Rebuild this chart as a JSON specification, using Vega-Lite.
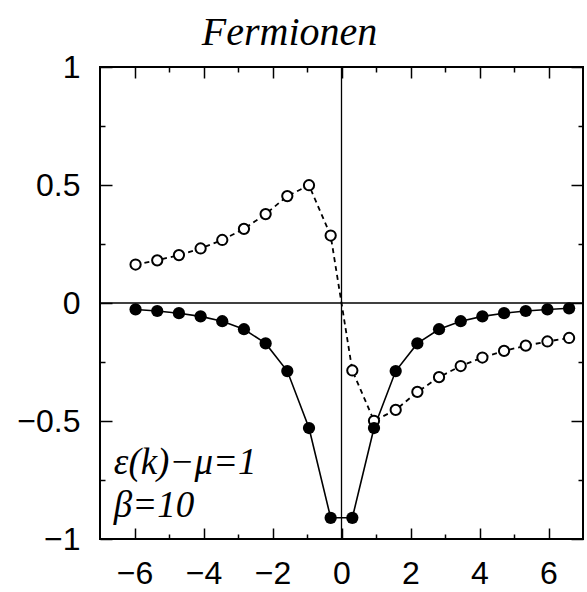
{
  "$schema": "https://vega.github.io/schema/vega-lite/v6.json",
  "width": 483,
  "height": 472,
  "autosize": {"type": "none"},
  "padding": {"left": 100, "top": 67, "right": 4, "bottom": 53},
  "background": "white",
  "config": {
    "view": {"stroke": "black", "strokeWidth": 2},
    "font": "Liberation Sans",
    "axis": {"grid": false}
  },
  "title": {
    "text": "Fermionen",
    "font": "Liberation Serif",
    "fontStyle": "italic",
    "fontWeight": "normal",
    "fontSize": 40,
    "color": "black",
    "anchor": "middle",
    "frame": "group",
    "dx": -52,
    "offset": -2
  },
  "datasets": {
    "green": [
      {"omega": -5.969, "re": -0.0273, "im": 0.1630},
      {"omega": -5.341, "re": -0.0339, "im": 0.1809},
      {"omega": -4.712, "re": -0.0431, "im": 0.2030},
      {"omega": -4.084, "re": -0.0566, "im": 0.2310},
      {"omega": -3.456, "re": -0.0773, "im": 0.2671},
      {"omega": -2.827, "re": -0.1112, "im": 0.3143},
      {"omega": -2.199, "re": -0.1714, "im": 0.3768},
      {"omega": -1.571, "re": -0.2884, "im": 0.4531},
      {"omega": -0.942, "re": -0.5297, "im": 0.4990},
      {"omega": -0.314, "re": -0.9102, "im": 0.2859},
      {"omega": 0.314, "re": -0.9102, "im": -0.2859},
      {"omega": 0.942, "re": -0.5297, "im": -0.4990},
      {"omega": 1.571, "re": -0.2884, "im": -0.4531},
      {"omega": 2.199, "re": -0.1714, "im": -0.3768},
      {"omega": 2.827, "re": -0.1112, "im": -0.3143},
      {"omega": 3.456, "re": -0.0773, "im": -0.2671},
      {"omega": 4.084, "re": -0.0566, "im": -0.2310},
      {"omega": 4.712, "re": -0.0431, "im": -0.2030},
      {"omega": 5.341, "re": -0.0339, "im": -0.1809},
      {"omega": 5.969, "re": -0.0273, "im": -0.1630},
      {"omega": 6.597, "re": -0.0225, "im": -0.1482}
    ],
    "notes": [
      {"label": "ε(k)−μ=1", "x": -6.6, "y": -0.68},
      {"label": "β=10", "x": -6.6, "y": -0.86}
    ]
  },
  "resolve": {"axis": {"x": "independent", "y": "independent"}},
  "layer": [
    {
      "data": {"name": "green"},
      "mark": {"type": "line", "color": "black", "strokeWidth": 1.6},
      "encoding": {
        "x": {
          "field": "omega", "type": "quantitative",
          "scale": {"domain": [-7, 7], "nice": false},
          "axis": {
            "orient": "bottom", "title": null, "domain": false, "grid": false,
            "values": [-6, -5, -4, -3, -2, -1, 0, 1, 2, 3, 4, 5, 6],
            "tickColor": "black", "tickWidth": 1.5,
            "tickSize": {"condition": {"test": "datum.value % 2 === 0", "value": -11}, "value": -5},
            "labelExpr": "datum.value % 2 === 0 ? datum.label : ''",
            "format": "~g",
            "labelFont": "Liberation Sans", "labelFontSize": 32, "labelColor": "black",
            "labelPadding": 30, "labelFlush": false, "labelOverlap": false, "labelBound": false
          }
        },
        "y": {
          "field": "re", "type": "quantitative",
          "scale": {"domain": [-1, 1], "nice": false},
          "axis": {
            "orient": "left", "title": null, "domain": false, "grid": false,
            "values": [-1, -0.75, -0.5, -0.25, 0, 0.25, 0.5, 0.75, 1],
            "tickColor": "black", "tickWidth": 1.5,
            "tickSize": {"condition": {"test": "abs(datum.value * 2 - round(datum.value * 2)) < 0.001", "value": -12}, "value": -5},
            "labelExpr": "abs(datum.value * 2 - round(datum.value * 2)) < 0.001 ? datum.label : ''",
            "format": "~g",
            "labelFont": "Liberation Sans", "labelFontSize": 32, "labelColor": "black",
            "labelPadding": 32, "labelFlush": false, "labelOverlap": false, "labelBound": false
          }
        }
      }
    },
    {
      "data": {"name": "green"},
      "mark": {"type": "line", "color": "black", "strokeWidth": 1.8, "strokeDash": [5, 4]},
      "encoding": {
        "x": {
          "field": "omega", "type": "quantitative",
          "axis": {
            "orient": "top", "title": null, "domain": false, "labels": false, "grid": false,
            "values": [-6, -5, -4, -3, -2, -1, 0, 1, 2, 3, 4, 5, 6],
            "tickColor": "black", "tickWidth": 1.5,
            "tickSize": {"condition": {"test": "datum.value % 2 === 0", "value": -11}, "value": -5}
          }
        },
        "y": {
          "field": "im", "type": "quantitative",
          "axis": {
            "orient": "right", "title": null, "domain": false, "labels": false, "grid": false,
            "values": [-1, -0.75, -0.5, -0.25, 0, 0.25, 0.5, 0.75, 1],
            "tickColor": "black", "tickWidth": 1.5,
            "tickSize": {"condition": {"test": "abs(datum.value * 2 - round(datum.value * 2)) < 0.001", "value": -12}, "value": -5}
          }
        }
      }
    },
    {
      "data": {"values": [{}]},
      "mark": {"type": "rule", "color": "black", "strokeWidth": 1.3},
      "encoding": {"x": {"datum": 0, "type": "quantitative", "axis": null}}
    },
    {
      "data": {"values": [{}]},
      "mark": {"type": "rule", "color": "black", "strokeWidth": 1.3},
      "encoding": {"y": {"datum": 0, "type": "quantitative", "axis": null}}
    },
    {
      "data": {"name": "green"},
      "mark": {"type": "point", "shape": "circle", "filled": false, "fill": "white", "stroke": "black", "strokeWidth": 2, "size": 105, "opacity": 1},
      "encoding": {
        "x": {"field": "omega", "type": "quantitative", "axis": null},
        "y": {"field": "im", "type": "quantitative", "axis": null}
      }
    },
    {
      "data": {"name": "green"},
      "mark": {"type": "point", "shape": "circle", "filled": true, "color": "black", "size": 150, "opacity": 1},
      "encoding": {
        "x": {"field": "omega", "type": "quantitative", "axis": null},
        "y": {"field": "re", "type": "quantitative", "axis": null}
      }
    },
    {
      "data": {"name": "notes"},
      "mark": {"type": "text", "align": "left", "baseline": "middle", "font": "Liberation Serif", "fontStyle": "italic", "fontSize": 37, "color": "black"},
      "encoding": {
        "x": {"field": "x", "type": "quantitative", "axis": null},
        "y": {"field": "y", "type": "quantitative", "axis": null},
        "text": {"field": "label"}
      }
    }
  ]
}
